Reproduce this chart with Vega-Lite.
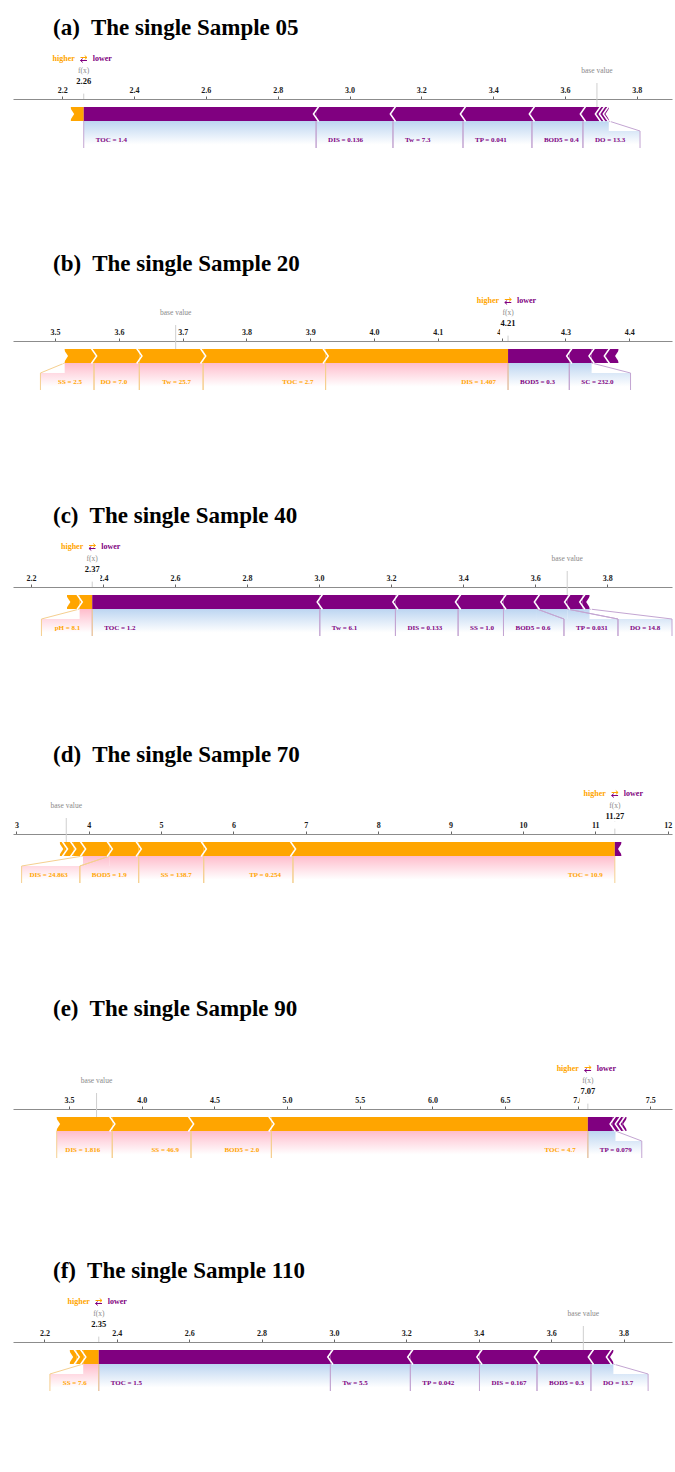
{
"$schema":"https://vega.github.io/schema/vega-lite/v6.json",
"background":"white",
"padding":{"left":13,"right":0,"top":16,"bottom":0},
"spacing":100,
"resolve":{"scale":{"x":"independent","y":"independent"}},
"datasets":{
"seg":[
{"p":"a","feature":"other","dir":"higher","lo":2.224,"hi":2.26},
{"p":"a","feature":"TOC","dir":"lower","lo":2.26,"hi":2.907},
{"p":"a","feature":"DIS","dir":"lower","lo":2.907,"hi":3.121},
{"p":"a","feature":"Tw","dir":"lower","lo":3.121,"hi":3.316},
{"p":"a","feature":"TP","dir":"lower","lo":3.316,"hi":3.508},
{"p":"a","feature":"BOD5","dir":"lower","lo":3.508,"hi":3.65},
{"p":"a","feature":"DO","dir":"lower","lo":3.65,"hi":3.692},
{"p":"a","feature":"other","dir":"lower","lo":3.692,"hi":3.703},
{"p":"a","feature":"other","dir":"lower","lo":3.703,"hi":3.714},
{"p":"a","feature":"other","dir":"lower","lo":3.714,"hi":3.722},
{"p":"b","feature":"SS","dir":"higher","lo":3.515,"hi":3.561},
{"p":"b","feature":"DO","dir":"higher","lo":3.561,"hi":3.632},
{"p":"b","feature":"Tw","dir":"higher","lo":3.632,"hi":3.732},
{"p":"b","feature":"TOC","dir":"higher","lo":3.732,"hi":3.924},
{"p":"b","feature":"DIS","dir":"higher","lo":3.924,"hi":4.21},
{"p":"b","feature":"BOD5","dir":"lower","lo":4.21,"hi":4.306},
{"p":"b","feature":"SC","dir":"lower","lo":4.306,"hi":4.341},
{"p":"b","feature":"other","dir":"lower","lo":4.341,"hi":4.365},
{"p":"b","feature":"other","dir":"lower","lo":4.365,"hi":4.383},
{"p":"c","feature":"other","dir":"higher","lo":2.30,"hi":2.335},
{"p":"c","feature":"pH","dir":"higher","lo":2.335,"hi":2.37},
{"p":"c","feature":"TOC","dir":"lower","lo":2.37,"hi":3.002},
{"p":"c","feature":"Tw","dir":"lower","lo":3.002,"hi":3.212},
{"p":"c","feature":"DIS","dir":"lower","lo":3.212,"hi":3.386},
{"p":"c","feature":"SS","dir":"lower","lo":3.386,"hi":3.512},
{"p":"c","feature":"BOD5","dir":"lower","lo":3.512,"hi":3.605},
{"p":"c","feature":"TP","dir":"lower","lo":3.605,"hi":3.689},
{"p":"c","feature":"DO","dir":"lower","lo":3.689,"hi":3.731},
{"p":"c","feature":"other","dir":"lower","lo":3.731,"hi":3.751},
{"p":"d","feature":"other","dir":"higher","lo":3.601,"hi":3.67},
{"p":"d","feature":"other","dir":"higher","lo":3.67,"hi":3.784},
{"p":"d","feature":"other","dir":"higher","lo":3.784,"hi":3.92},
{"p":"d","feature":"DIS","dir":"higher","lo":3.92,"hi":4.29},
{"p":"d","feature":"BOD5","dir":"higher","lo":4.29,"hi":4.69},
{"p":"d","feature":"SS","dir":"higher","lo":4.69,"hi":5.589},
{"p":"d","feature":"TP","dir":"higher","lo":5.589,"hi":6.822},
{"p":"d","feature":"TOC","dir":"higher","lo":6.822,"hi":11.27},
{"p":"d","feature":"other","dir":"lower","lo":11.27,"hi":11.36},
{"p":"e","feature":"DIS","dir":"higher","lo":3.415,"hi":3.797},
{"p":"e","feature":"SS","dir":"higher","lo":3.797,"hi":4.339},
{"p":"e","feature":"BOD5","dir":"higher","lo":4.339,"hi":4.892},
{"p":"e","feature":"TOC","dir":"higher","lo":4.892,"hi":7.07},
{"p":"e","feature":"TP","dir":"lower","lo":7.07,"hi":7.241},
{"p":"e","feature":"other","dir":"lower","lo":7.241,"hi":7.277},
{"p":"e","feature":"other","dir":"lower","lo":7.277,"hi":7.307},
{"p":"e","feature":"other","dir":"lower","lo":7.307,"hi":7.336},
{"p":"f","feature":"other","dir":"higher","lo":2.27,"hi":2.289},
{"p":"f","feature":"other","dir":"higher","lo":2.289,"hi":2.307},
{"p":"f","feature":"SS","dir":"higher","lo":2.307,"hi":2.35},
{"p":"f","feature":"TOC","dir":"lower","lo":2.35,"hi":2.99},
{"p":"f","feature":"Tw","dir":"lower","lo":2.99,"hi":3.211},
{"p":"f","feature":"TP","dir":"lower","lo":3.211,"hi":3.402},
{"p":"f","feature":"DIS","dir":"lower","lo":3.402,"hi":3.561},
{"p":"f","feature":"BOD5","dir":"lower","lo":3.561,"hi":3.71},
{"p":"f","feature":"DO","dir":"lower","lo":3.71,"hi":3.76},
{"p":"f","feature":"other","dir":"lower","lo":3.76,"hi":3.772}
],
"lab":[
{"p":"a","dir":"lower","label":"TOC = 1.4","barLo":2.26,"barHi":2.907,"labLo":2.26,"labHi":2.907},
{"p":"a","dir":"lower","label":"DIS = 0.136","barLo":2.907,"barHi":3.121,"labLo":2.907,"labHi":3.121},
{"p":"a","dir":"lower","label":"Tw = 7.3","barLo":3.121,"barHi":3.316,"labLo":3.121,"labHi":3.316},
{"p":"a","dir":"lower","label":"TP = 0.041","barLo":3.316,"barHi":3.508,"labLo":3.316,"labHi":3.508},
{"p":"a","dir":"lower","label":"BOD5 = 0.4","barLo":3.508,"barHi":3.65,"labLo":3.508,"labHi":3.65},
{"p":"a","dir":"lower","label":"DO = 13.3","barLo":3.65,"barHi":3.722,"labLo":3.65,"labHi":3.809},
{"p":"b","dir":"higher","label":"SS = 2.5","barLo":3.515,"barHi":3.561,"labLo":3.477,"labHi":3.561},
{"p":"b","dir":"higher","label":"DO = 7.0","barLo":3.561,"barHi":3.632,"labLo":3.561,"labHi":3.632},
{"p":"b","dir":"higher","label":"Tw = 25.7","barLo":3.632,"barHi":3.732,"labLo":3.632,"labHi":3.732},
{"p":"b","dir":"higher","label":"TOC = 2.7","barLo":3.732,"barHi":3.924,"labLo":3.732,"labHi":3.924},
{"p":"b","dir":"higher","label":"DIS = 1.407","barLo":3.924,"barHi":4.21,"labLo":3.924,"labHi":4.21},
{"p":"b","dir":"lower","label":"BOD5 = 0.3","barLo":4.21,"barHi":4.306,"labLo":4.21,"labHi":4.306},
{"p":"b","dir":"lower","label":"SC = 232.0","barLo":4.306,"barHi":4.341,"labLo":4.306,"labHi":4.402},
{"p":"c","dir":"higher","label":"pH = 8.1","barLo":2.335,"barHi":2.37,"labLo":2.229,"labHi":2.37},
{"p":"c","dir":"lower","label":"TOC = 1.2","barLo":2.37,"barHi":3.002,"labLo":2.37,"labHi":3.002},
{"p":"c","dir":"lower","label":"Tw = 6.1","barLo":3.002,"barHi":3.212,"labLo":3.002,"labHi":3.212},
{"p":"c","dir":"lower","label":"DIS = 0.133","barLo":3.212,"barHi":3.386,"labLo":3.212,"labHi":3.386},
{"p":"c","dir":"lower","label":"SS = 1.0","barLo":3.386,"barHi":3.512,"labLo":3.386,"labHi":3.512},
{"p":"c","dir":"lower","label":"BOD5 = 0.6","barLo":3.512,"barHi":3.605,"labLo":3.512,"labHi":3.68},
{"p":"c","dir":"lower","label":"TP = 0.031","barLo":3.605,"barHi":3.689,"labLo":3.68,"labHi":3.83},
{"p":"c","dir":"lower","label":"DO = 14.8","barLo":3.689,"barHi":3.751,"labLo":3.83,"labHi":3.98},
{"p":"d","dir":"higher","label":"DIS = 24.863","barLo":3.92,"barHi":4.29,"labLo":3.072,"labHi":3.877},
{"p":"d","dir":"higher","label":"BOD5 = 1.9","barLo":4.29,"barHi":4.69,"labLo":3.877,"labHi":4.69},
{"p":"d","dir":"higher","label":"SS = 138.7","barLo":4.69,"barHi":5.589,"labLo":4.69,"labHi":5.589},
{"p":"d","dir":"higher","label":"TP = 0.254","barLo":5.589,"barHi":6.822,"labLo":5.589,"labHi":6.822},
{"p":"d","dir":"higher","label":"TOC = 10.9","barLo":6.822,"barHi":11.27,"labLo":6.822,"labHi":11.27},
{"p":"e","dir":"higher","label":"DIS = 1.816","barLo":3.415,"barHi":3.797,"labLo":3.415,"labHi":3.797},
{"p":"e","dir":"higher","label":"SS = 46.9","barLo":3.797,"barHi":4.339,"labLo":3.797,"labHi":4.339},
{"p":"e","dir":"higher","label":"BOD5 = 2.0","barLo":4.339,"barHi":4.892,"labLo":4.339,"labHi":4.892},
{"p":"e","dir":"higher","label":"TOC = 4.7","barLo":4.892,"barHi":7.07,"labLo":4.892,"labHi":7.07},
{"p":"e","dir":"lower","label":"TP = 0.079","barLo":7.07,"barHi":7.26,"labLo":7.07,"labHi":7.441},
{"p":"f","dir":"higher","label":"SS = 7.6","barLo":2.307,"barHi":2.35,"labLo":2.215,"labHi":2.35},
{"p":"f","dir":"lower","label":"TOC = 1.5","barLo":2.35,"barHi":2.99,"labLo":2.35,"labHi":2.99},
{"p":"f","dir":"lower","label":"Tw = 5.5","barLo":2.99,"barHi":3.211,"labLo":2.99,"labHi":3.211},
{"p":"f","dir":"lower","label":"TP = 0.042","barLo":3.211,"barHi":3.402,"labLo":3.211,"labHi":3.402},
{"p":"f","dir":"lower","label":"DIS = 0.167","barLo":3.402,"barHi":3.561,"labLo":3.402,"labHi":3.561},
{"p":"f","dir":"lower","label":"BOD5 = 0.3","barLo":3.561,"barHi":3.71,"labLo":3.561,"labHi":3.71},
{"p":"f","dir":"lower","label":"DO = 13.7","barLo":3.71,"barHi":3.772,"labLo":3.71,"labHi":3.868}
],
"meta":[
{"p":"a","fx":2.26,"base":3.689},
{"p":"b","fx":4.21,"base":3.689},
{"p":"c","fx":2.37,"base":3.689},
{"p":"d","fx":11.27,"base":3.689},
{"p":"e","fx":7.07,"base":3.689},
{"p":"f","fx":2.35,"base":3.689}
]
},
"vconcat":[
{"title":{"text":"(a)\u00a0 The single Sample 05","offset":14},"width":659,"height":53,"layer":[
{"data":{"name":"seg"},"transform":[{"filter":"datum.p=='a'"}],"mark":{"type":"rect","strokeWidth":0},"encoding":{"x":{"field":"lo","type":"quantitative","title":null,"scale":{"domain":[2.063,3.898],"nice":false,"zero":false},"axis":{"orient":"top","values":[2.2,2.4,2.6,2.8,3.0,3.2,3.4,3.6,3.8],"format":".1f","title":null}},"x2":{"field":"hi"},"y":{"datum":8,"axis":null,"scale":{"domain":[0,53],"reverse":true,"nice":false,"zero":false}},"y2":{"datum":22},"fill":{"field":"dir","type":"nominal","legend":null,"scale":{"domain":["higher","lower"],"range":["#FFA500","#800080"]}}}},
{"data":{"name":"lab"},"transform":[{"filter":"datum.p=='a' && datum.dir=='higher'"}],"mark":{"type":"rect","strokeWidth":0,"fill":{"gradient":"linear","x1":0,"y1":0,"x2":0,"y2":1,"stops":[{"offset":0,"color":"#ffbccb"},{"offset":1,"color":"#ffd9e2"}]}},"encoding":{"x":{"field":"barLo","type":"quantitative","title":null},"x2":{"field":"barHi"},"y":{"datum":22,"axis":null},"y2":{"datum":32}}},
{"data":{"name":"lab"},"transform":[{"filter":"datum.p=='a' && datum.dir=='lower'"}],"mark":{"type":"rect","strokeWidth":0,"fill":{"gradient":"linear","x1":0,"y1":0,"x2":0,"y2":1,"stops":[{"offset":0,"color":"#bcd5f1"},{"offset":1,"color":"#d9e7f7"}]}},"encoding":{"x":{"field":"barLo","type":"quantitative","title":null},"x2":{"field":"barHi"},"y":{"datum":22,"axis":null},"y2":{"datum":32}}},
{"data":{"name":"lab"},"transform":[{"filter":"datum.p=='a' && datum.dir=='higher'"}],"mark":{"type":"rect","strokeWidth":0,"fill":{"gradient":"linear","x1":0,"y1":0,"x2":0,"y2":1,"stops":[{"offset":0,"color":"#ffd9e2"},{"offset":0.8,"color":"#ffffff"}]}},"encoding":{"x":{"field":"labLo","type":"quantitative","title":null},"x2":{"field":"labHi"},"y":{"datum":32,"axis":null},"y2":{"datum":49}}},
{"data":{"name":"lab"},"transform":[{"filter":"datum.p=='a' && datum.dir=='lower'"}],"mark":{"type":"rect","strokeWidth":0,"fill":{"gradient":"linear","x1":0,"y1":0,"x2":0,"y2":1,"stops":[{"offset":0,"color":"#d9e7f7"},{"offset":0.8,"color":"#ffffff"}]}},"encoding":{"x":{"field":"labLo","type":"quantitative","title":null},"x2":{"field":"labHi"},"y":{"datum":32,"axis":null},"y2":{"datum":49}}},
{"data":{"name":"lab"},"transform":[{"filter":"datum.p=='a'"}],"mark":{"type":"rule","strokeWidth":1},"encoding":{"x":{"field":"barLo","type":"quantitative","title":null},"x2":{"field":"labLo"},"y":{"datum":22,"axis":null},"y2":{"datum":32},"stroke":{"field":"dir","type":"nominal","legend":null,"scale":{"domain":["higher","lower"],"range":["#f5cf8f","#c3a5d2"]}}}},
{"data":{"name":"lab"},"transform":[{"filter":"datum.p=='a'"}],"mark":{"type":"rule","strokeWidth":1},"encoding":{"x":{"field":"barHi","type":"quantitative","title":null},"x2":{"field":"labHi"},"y":{"datum":22,"axis":null},"y2":{"datum":32},"stroke":{"field":"dir","type":"nominal","legend":null,"scale":{"domain":["higher","lower"],"range":["#f5cf8f","#c3a5d2"]}}}},
{"data":{"name":"lab"},"transform":[{"filter":"datum.p=='a'"}],"mark":{"type":"rule","strokeWidth":1},"encoding":{"x":{"field":"labLo","type":"quantitative","title":null},"y":{"datum":32,"axis":null},"y2":{"datum":49},"stroke":{"field":"dir","type":"nominal","legend":null,"scale":{"domain":["higher","lower"],"range":["#f5cf8f","#c3a5d2"]}}}},
{"data":{"name":"lab"},"transform":[{"filter":"datum.p=='a'"}],"mark":{"type":"rule","strokeWidth":1},"encoding":{"x":{"field":"labHi","type":"quantitative","title":null},"y":{"datum":32,"axis":null},"y2":{"datum":49},"stroke":{"field":"dir","type":"nominal","legend":null,"scale":{"domain":["higher","lower"],"range":["#f5cf8f","#c3a5d2"]}}}},
{"data":{"name":"seg"},"transform":[{"filter":"datum.p=='a'"},{"joinaggregate":[{"op":"min","field":"lo","as":"start"}],"groupby":["dir"]},{"filter":"datum.dir=='lower' && datum.lo > datum.start"}],"mark":{"type":"point","shape":"M0.35,-1L-0.35,0L0.35,1","filled":false,"color":"white","strokeWidth":1.5,"size":225,"opacity":1},"encoding":{"x":{"field":"lo","type":"quantitative","title":null},"y":{"datum":15,"axis":null}}},
{"data":{"name":"seg"},"transform":[{"filter":"datum.p=='a'"},{"joinaggregate":[{"op":"max","field":"hi","as":"end"}],"groupby":["dir"]},{"filter":"datum.dir=='higher' && datum.hi < datum.end"}],"mark":{"type":"point","shape":"M-0.35,-1L0.35,0L-0.35,1","filled":false,"color":"white","strokeWidth":1.5,"size":225,"opacity":1},"encoding":{"x":{"field":"hi","type":"quantitative","title":null},"y":{"datum":15,"axis":null}}},
{"data":{"name":"seg"},"transform":[{"filter":"datum.p=='a'"},{"joinaggregate":[{"op":"max","field":"hi","as":"end"}],"groupby":["dir"]},{"filter":"datum.dir=='lower' && datum.hi == datum.end"}],"mark":{"type":"point","shape":"M0.3,-1.15L-0.45,0L0.3,1.15Z","filled":true,"color":"white","strokeWidth":0,"size":225,"opacity":1},"encoding":{"x":{"field":"hi","type":"quantitative","title":null},"y":{"datum":15,"axis":null}}},
{"data":{"name":"seg"},"transform":[{"filter":"datum.p=='a'"},{"joinaggregate":[{"op":"min","field":"lo","as":"start"}],"groupby":["dir"]},{"filter":"datum.dir=='higher' && datum.lo == datum.start"}],"mark":{"type":"point","shape":"M-0.3,-1.15L0.45,0L-0.3,1.15Z","filled":true,"color":"white","strokeWidth":0,"size":225,"opacity":1},"encoding":{"x":{"field":"lo","type":"quantitative","title":null},"y":{"datum":15,"axis":null}}},
{"data":{"name":"meta"},"transform":[{"filter":"datum.p=='a'"}],"mark":{"type":"rule","color":"#cfcfcf","strokeWidth":1},"encoding":{"x":{"field":"base","type":"quantitative","title":null},"y":{"datum":-16,"axis":null},"y2":{"datum":8}}},
{"data":{"name":"meta"},"transform":[{"filter":"datum.p=='a'"}],"mark":{"type":"rule","color":"#cfcfcf","strokeWidth":1},"encoding":{"x":{"field":"fx","type":"quantitative","title":null},"y":{"datum":-13,"axis":null},"y2":{"datum":0}}},
{"data":{"name":"meta"},"transform":[{"filter":"datum.p=='a'"}],"mark":{"type":"point","shape":"M-1,-0.45L1,-0.45L1,0.45L-1,0.45Z","filled":true,"color":"white","strokeWidth":0,"size":256,"opacity":1},"encoding":{"x":{"field":"fx","type":"quantitative","title":null},"y":{"datum":-9,"axis":null}}},
{"data":{"name":"meta"},"transform":[{"filter":"datum.p=='a'"}],"mark":{"type":"text","text":"base value","fontSize":7.5,"color":"#8a8a8a"},"encoding":{"x":{"field":"base","type":"quantitative","title":null},"y":{"datum":-28,"axis":null}}},
{"data":{"name":"meta"},"transform":[{"filter":"datum.p=='a'"}],"mark":{"type":"text","text":"f(x)","fontSize":7.5,"color":"#8a8a8a"},"encoding":{"x":{"field":"fx","type":"quantitative","title":null},"y":{"datum":-28,"axis":null}}},
{"data":{"name":"meta"},"transform":[{"filter":"datum.p=='a'"}],"mark":{"type":"text","fontSize":8.5,"fontWeight":"bold","color":"#111111"},"encoding":{"x":{"field":"fx","type":"quantitative","title":null},"y":{"datum":-18,"axis":null},"text":{"field":"fx","type":"quantitative","format":".2f"}}},
{"data":{"name":"meta"},"transform":[{"filter":"datum.p=='a'"}],"mark":{"type":"text","text":"higher","align":"right","dx":-9,"fontSize":8,"fontWeight":"bold","color":"#FFA500"},"encoding":{"x":{"field":"fx","type":"quantitative","title":null},"y":{"datum":-40,"axis":null}}},
{"data":{"name":"meta"},"transform":[{"filter":"datum.p=='a'"}],"mark":{"type":"text","text":"lower","align":"left","dx":9,"fontSize":8,"fontWeight":"bold","color":"#800080"},"encoding":{"x":{"field":"fx","type":"quantitative","title":null},"y":{"datum":-40,"axis":null}}},
{"data":{"name":"meta"},"transform":[{"filter":"datum.p=='a'"}],"mark":{"type":"point","shape":"M-1,0L1,0M0.3,-0.6L1,0L0.3,0.6","filled":false,"color":"#FFA500","strokeWidth":1,"size":42,"opacity":1},"encoding":{"x":{"field":"fx","type":"quantitative","title":null},"y":{"datum":-41.5,"axis":null}}},
{"data":{"name":"meta"},"transform":[{"filter":"datum.p=='a'"}],"mark":{"type":"point","shape":"M1,0L-1,0M-0.3,-0.6L-1,0L-0.3,0.6","filled":false,"color":"#800080","strokeWidth":1,"size":42,"opacity":1},"encoding":{"x":{"field":"fx","type":"quantitative","title":null},"y":{"datum":-38.5,"axis":null}}},
{"data":{"name":"lab"},"transform":[{"filter":"datum.p=='a' && datum.dir=='higher'"}],"mark":{"type":"text","align":"right","dx":-12,"fontSize":7,"fontWeight":"bold"},"encoding":{"x":{"field":"labHi","type":"quantitative","title":null},"y":{"datum":41,"axis":null},"text":{"field":"label"},"fill":{"field":"dir","type":"nominal","legend":null}}},
{"data":{"name":"lab"},"transform":[{"filter":"datum.p=='a' && datum.dir=='lower'"}],"mark":{"type":"text","align":"left","dx":12,"fontSize":7,"fontWeight":"bold"},"encoding":{"x":{"field":"labLo","type":"quantitative","title":null},"y":{"datum":41,"axis":null},"text":{"field":"label"},"fill":{"field":"dir","type":"nominal","legend":null}}}
]},
{"title":{"text":"(b)\u00a0 The single Sample 20","offset":20},"width":659,"height":63,"layer":[
{"data":{"name":"seg"},"transform":[{"filter":"datum.p=='b'"}],"mark":{"type":"rect","strokeWidth":0},"encoding":{"x":{"field":"lo","type":"quantitative","title":null,"scale":{"domain":[3.434,4.467],"nice":false,"zero":false},"axis":{"orient":"top","values":[3.5,3.6,3.7,3.8,3.9,4.0,4.1,4.2,4.3,4.4],"format":".1f","title":null}},"x2":{"field":"hi"},"y":{"datum":8,"axis":null,"scale":{"domain":[0,63],"reverse":true,"nice":false,"zero":false}},"y2":{"datum":22},"fill":{"field":"dir","type":"nominal","legend":null,"scale":{"domain":["higher","lower"],"range":["#FFA500","#800080"]}}}},
{"data":{"name":"lab"},"transform":[{"filter":"datum.p=='b' && datum.dir=='higher'"}],"mark":{"type":"rect","strokeWidth":0,"fill":{"gradient":"linear","x1":0,"y1":0,"x2":0,"y2":1,"stops":[{"offset":0,"color":"#ffbccb"},{"offset":1,"color":"#ffd9e2"}]}},"encoding":{"x":{"field":"barLo","type":"quantitative","title":null},"x2":{"field":"barHi"},"y":{"datum":22,"axis":null},"y2":{"datum":32}}},
{"data":{"name":"lab"},"transform":[{"filter":"datum.p=='b' && datum.dir=='lower'"}],"mark":{"type":"rect","strokeWidth":0,"fill":{"gradient":"linear","x1":0,"y1":0,"x2":0,"y2":1,"stops":[{"offset":0,"color":"#bcd5f1"},{"offset":1,"color":"#d9e7f7"}]}},"encoding":{"x":{"field":"barLo","type":"quantitative","title":null},"x2":{"field":"barHi"},"y":{"datum":22,"axis":null},"y2":{"datum":32}}},
{"data":{"name":"lab"},"transform":[{"filter":"datum.p=='b' && datum.dir=='higher'"}],"mark":{"type":"rect","strokeWidth":0,"fill":{"gradient":"linear","x1":0,"y1":0,"x2":0,"y2":1,"stops":[{"offset":0,"color":"#ffd9e2"},{"offset":0.8,"color":"#ffffff"}]}},"encoding":{"x":{"field":"labLo","type":"quantitative","title":null},"x2":{"field":"labHi"},"y":{"datum":32,"axis":null},"y2":{"datum":49}}},
{"data":{"name":"lab"},"transform":[{"filter":"datum.p=='b' && datum.dir=='lower'"}],"mark":{"type":"rect","strokeWidth":0,"fill":{"gradient":"linear","x1":0,"y1":0,"x2":0,"y2":1,"stops":[{"offset":0,"color":"#d9e7f7"},{"offset":0.8,"color":"#ffffff"}]}},"encoding":{"x":{"field":"labLo","type":"quantitative","title":null},"x2":{"field":"labHi"},"y":{"datum":32,"axis":null},"y2":{"datum":49}}},
{"data":{"name":"lab"},"transform":[{"filter":"datum.p=='b'"}],"mark":{"type":"rule","strokeWidth":1},"encoding":{"x":{"field":"barLo","type":"quantitative","title":null},"x2":{"field":"labLo"},"y":{"datum":22,"axis":null},"y2":{"datum":32},"stroke":{"field":"dir","type":"nominal","legend":null,"scale":{"domain":["higher","lower"],"range":["#f5cf8f","#c3a5d2"]}}}},
{"data":{"name":"lab"},"transform":[{"filter":"datum.p=='b'"}],"mark":{"type":"rule","strokeWidth":1},"encoding":{"x":{"field":"barHi","type":"quantitative","title":null},"x2":{"field":"labHi"},"y":{"datum":22,"axis":null},"y2":{"datum":32},"stroke":{"field":"dir","type":"nominal","legend":null,"scale":{"domain":["higher","lower"],"range":["#f5cf8f","#c3a5d2"]}}}},
{"data":{"name":"lab"},"transform":[{"filter":"datum.p=='b'"}],"mark":{"type":"rule","strokeWidth":1},"encoding":{"x":{"field":"labLo","type":"quantitative","title":null},"y":{"datum":32,"axis":null},"y2":{"datum":49},"stroke":{"field":"dir","type":"nominal","legend":null,"scale":{"domain":["higher","lower"],"range":["#f5cf8f","#c3a5d2"]}}}},
{"data":{"name":"lab"},"transform":[{"filter":"datum.p=='b'"}],"mark":{"type":"rule","strokeWidth":1},"encoding":{"x":{"field":"labHi","type":"quantitative","title":null},"y":{"datum":32,"axis":null},"y2":{"datum":49},"stroke":{"field":"dir","type":"nominal","legend":null,"scale":{"domain":["higher","lower"],"range":["#f5cf8f","#c3a5d2"]}}}},
{"data":{"name":"seg"},"transform":[{"filter":"datum.p=='b'"},{"joinaggregate":[{"op":"min","field":"lo","as":"start"}],"groupby":["dir"]},{"filter":"datum.dir=='lower' && datum.lo > datum.start"}],"mark":{"type":"point","shape":"M0.35,-1L-0.35,0L0.35,1","filled":false,"color":"white","strokeWidth":1.5,"size":225,"opacity":1},"encoding":{"x":{"field":"lo","type":"quantitative","title":null},"y":{"datum":15,"axis":null}}},
{"data":{"name":"seg"},"transform":[{"filter":"datum.p=='b'"},{"joinaggregate":[{"op":"max","field":"hi","as":"end"}],"groupby":["dir"]},{"filter":"datum.dir=='higher' && datum.hi < datum.end"}],"mark":{"type":"point","shape":"M-0.35,-1L0.35,0L-0.35,1","filled":false,"color":"white","strokeWidth":1.5,"size":225,"opacity":1},"encoding":{"x":{"field":"hi","type":"quantitative","title":null},"y":{"datum":15,"axis":null}}},
{"data":{"name":"seg"},"transform":[{"filter":"datum.p=='b'"},{"joinaggregate":[{"op":"max","field":"hi","as":"end"}],"groupby":["dir"]},{"filter":"datum.dir=='lower' && datum.hi == datum.end"}],"mark":{"type":"point","shape":"M0.3,-1.15L-0.45,0L0.3,1.15Z","filled":true,"color":"white","strokeWidth":0,"size":225,"opacity":1},"encoding":{"x":{"field":"hi","type":"quantitative","title":null},"y":{"datum":15,"axis":null}}},
{"data":{"name":"seg"},"transform":[{"filter":"datum.p=='b'"},{"joinaggregate":[{"op":"min","field":"lo","as":"start"}],"groupby":["dir"]},{"filter":"datum.dir=='higher' && datum.lo == datum.start"}],"mark":{"type":"point","shape":"M-0.3,-1.15L0.45,0L-0.3,1.15Z","filled":true,"color":"white","strokeWidth":0,"size":225,"opacity":1},"encoding":{"x":{"field":"lo","type":"quantitative","title":null},"y":{"datum":15,"axis":null}}},
{"data":{"name":"meta"},"transform":[{"filter":"datum.p=='b'"}],"mark":{"type":"rule","color":"#cfcfcf","strokeWidth":1},"encoding":{"x":{"field":"base","type":"quantitative","title":null},"y":{"datum":-16,"axis":null},"y2":{"datum":8}}},
{"data":{"name":"meta"},"transform":[{"filter":"datum.p=='b'"}],"mark":{"type":"rule","color":"#cfcfcf","strokeWidth":1},"encoding":{"x":{"field":"fx","type":"quantitative","title":null},"y":{"datum":-13,"axis":null},"y2":{"datum":0}}},
{"data":{"name":"meta"},"transform":[{"filter":"datum.p=='b'"}],"mark":{"type":"point","shape":"M-1,-0.45L1,-0.45L1,0.45L-1,0.45Z","filled":true,"color":"white","strokeWidth":0,"size":256,"opacity":1},"encoding":{"x":{"field":"fx","type":"quantitative","title":null},"y":{"datum":-9,"axis":null}}},
{"data":{"name":"meta"},"transform":[{"filter":"datum.p=='b'"}],"mark":{"type":"text","text":"base value","fontSize":7.5,"color":"#8a8a8a"},"encoding":{"x":{"field":"base","type":"quantitative","title":null},"y":{"datum":-28,"axis":null}}},
{"data":{"name":"meta"},"transform":[{"filter":"datum.p=='b'"}],"mark":{"type":"text","text":"f(x)","fontSize":7.5,"color":"#8a8a8a"},"encoding":{"x":{"field":"fx","type":"quantitative","title":null},"y":{"datum":-28,"axis":null}}},
{"data":{"name":"meta"},"transform":[{"filter":"datum.p=='b'"}],"mark":{"type":"text","fontSize":8.5,"fontWeight":"bold","color":"#111111"},"encoding":{"x":{"field":"fx","type":"quantitative","title":null},"y":{"datum":-18,"axis":null},"text":{"field":"fx","type":"quantitative","format":".2f"}}},
{"data":{"name":"meta"},"transform":[{"filter":"datum.p=='b'"}],"mark":{"type":"text","text":"higher","align":"right","dx":-9,"fontSize":8,"fontWeight":"bold","color":"#FFA500"},"encoding":{"x":{"field":"fx","type":"quantitative","title":null},"y":{"datum":-40,"axis":null}}},
{"data":{"name":"meta"},"transform":[{"filter":"datum.p=='b'"}],"mark":{"type":"text","text":"lower","align":"left","dx":9,"fontSize":8,"fontWeight":"bold","color":"#800080"},"encoding":{"x":{"field":"fx","type":"quantitative","title":null},"y":{"datum":-40,"axis":null}}},
{"data":{"name":"meta"},"transform":[{"filter":"datum.p=='b'"}],"mark":{"type":"point","shape":"M-1,0L1,0M0.3,-0.6L1,0L0.3,0.6","filled":false,"color":"#FFA500","strokeWidth":1,"size":42,"opacity":1},"encoding":{"x":{"field":"fx","type":"quantitative","title":null},"y":{"datum":-41.5,"axis":null}}},
{"data":{"name":"meta"},"transform":[{"filter":"datum.p=='b'"}],"mark":{"type":"point","shape":"M1,0L-1,0M-0.3,-0.6L-1,0L-0.3,0.6","filled":false,"color":"#800080","strokeWidth":1,"size":42,"opacity":1},"encoding":{"x":{"field":"fx","type":"quantitative","title":null},"y":{"datum":-38.5,"axis":null}}},
{"data":{"name":"lab"},"transform":[{"filter":"datum.p=='b' && datum.dir=='higher'"}],"mark":{"type":"text","align":"right","dx":-12,"fontSize":7,"fontWeight":"bold"},"encoding":{"x":{"field":"labHi","type":"quantitative","title":null},"y":{"datum":41,"axis":null},"text":{"field":"label"},"fill":{"field":"dir","type":"nominal","legend":null}}},
{"data":{"name":"lab"},"transform":[{"filter":"datum.p=='b' && datum.dir=='lower'"}],"mark":{"type":"text","align":"left","dx":12,"fontSize":7,"fontWeight":"bold"},"encoding":{"x":{"field":"labLo","type":"quantitative","title":null},"y":{"datum":41,"axis":null},"text":{"field":"label"},"fill":{"field":"dir","type":"nominal","legend":null}}}
]},
{"title":{"text":"(c)\u00a0 The single Sample 40","offset":14},"width":659,"height":56,"layer":[
{"data":{"name":"seg"},"transform":[{"filter":"datum.p=='c'"}],"mark":{"type":"rect","strokeWidth":0},"encoding":{"x":{"field":"lo","type":"quantitative","title":null,"scale":{"domain":[2.15,3.98],"nice":false,"zero":false},"axis":{"orient":"top","values":[2.2,2.4,2.6,2.8,3.0,3.2,3.4,3.6,3.8],"format":".1f","title":null}},"x2":{"field":"hi"},"y":{"datum":8,"axis":null,"scale":{"domain":[0,56],"reverse":true,"nice":false,"zero":false}},"y2":{"datum":22},"fill":{"field":"dir","type":"nominal","legend":null,"scale":{"domain":["higher","lower"],"range":["#FFA500","#800080"]}}}},
{"data":{"name":"lab"},"transform":[{"filter":"datum.p=='c' && datum.dir=='higher'"}],"mark":{"type":"rect","strokeWidth":0,"fill":{"gradient":"linear","x1":0,"y1":0,"x2":0,"y2":1,"stops":[{"offset":0,"color":"#ffbccb"},{"offset":1,"color":"#ffd9e2"}]}},"encoding":{"x":{"field":"barLo","type":"quantitative","title":null},"x2":{"field":"barHi"},"y":{"datum":22,"axis":null},"y2":{"datum":32}}},
{"data":{"name":"lab"},"transform":[{"filter":"datum.p=='c' && datum.dir=='lower'"}],"mark":{"type":"rect","strokeWidth":0,"fill":{"gradient":"linear","x1":0,"y1":0,"x2":0,"y2":1,"stops":[{"offset":0,"color":"#bcd5f1"},{"offset":1,"color":"#d9e7f7"}]}},"encoding":{"x":{"field":"barLo","type":"quantitative","title":null},"x2":{"field":"barHi"},"y":{"datum":22,"axis":null},"y2":{"datum":32}}},
{"data":{"name":"lab"},"transform":[{"filter":"datum.p=='c' && datum.dir=='higher'"}],"mark":{"type":"rect","strokeWidth":0,"fill":{"gradient":"linear","x1":0,"y1":0,"x2":0,"y2":1,"stops":[{"offset":0,"color":"#ffd9e2"},{"offset":0.8,"color":"#ffffff"}]}},"encoding":{"x":{"field":"labLo","type":"quantitative","title":null},"x2":{"field":"labHi"},"y":{"datum":32,"axis":null},"y2":{"datum":49}}},
{"data":{"name":"lab"},"transform":[{"filter":"datum.p=='c' && datum.dir=='lower'"}],"mark":{"type":"rect","strokeWidth":0,"fill":{"gradient":"linear","x1":0,"y1":0,"x2":0,"y2":1,"stops":[{"offset":0,"color":"#d9e7f7"},{"offset":0.8,"color":"#ffffff"}]}},"encoding":{"x":{"field":"labLo","type":"quantitative","title":null},"x2":{"field":"labHi"},"y":{"datum":32,"axis":null},"y2":{"datum":49}}},
{"data":{"name":"lab"},"transform":[{"filter":"datum.p=='c'"}],"mark":{"type":"rule","strokeWidth":1},"encoding":{"x":{"field":"barLo","type":"quantitative","title":null},"x2":{"field":"labLo"},"y":{"datum":22,"axis":null},"y2":{"datum":32},"stroke":{"field":"dir","type":"nominal","legend":null,"scale":{"domain":["higher","lower"],"range":["#f5cf8f","#c3a5d2"]}}}},
{"data":{"name":"lab"},"transform":[{"filter":"datum.p=='c'"}],"mark":{"type":"rule","strokeWidth":1},"encoding":{"x":{"field":"barHi","type":"quantitative","title":null},"x2":{"field":"labHi"},"y":{"datum":22,"axis":null},"y2":{"datum":32},"stroke":{"field":"dir","type":"nominal","legend":null,"scale":{"domain":["higher","lower"],"range":["#f5cf8f","#c3a5d2"]}}}},
{"data":{"name":"lab"},"transform":[{"filter":"datum.p=='c'"}],"mark":{"type":"rule","strokeWidth":1},"encoding":{"x":{"field":"labLo","type":"quantitative","title":null},"y":{"datum":32,"axis":null},"y2":{"datum":49},"stroke":{"field":"dir","type":"nominal","legend":null,"scale":{"domain":["higher","lower"],"range":["#f5cf8f","#c3a5d2"]}}}},
{"data":{"name":"lab"},"transform":[{"filter":"datum.p=='c'"}],"mark":{"type":"rule","strokeWidth":1},"encoding":{"x":{"field":"labHi","type":"quantitative","title":null},"y":{"datum":32,"axis":null},"y2":{"datum":49},"stroke":{"field":"dir","type":"nominal","legend":null,"scale":{"domain":["higher","lower"],"range":["#f5cf8f","#c3a5d2"]}}}},
{"data":{"name":"seg"},"transform":[{"filter":"datum.p=='c'"},{"joinaggregate":[{"op":"min","field":"lo","as":"start"}],"groupby":["dir"]},{"filter":"datum.dir=='lower' && datum.lo > datum.start"}],"mark":{"type":"point","shape":"M0.35,-1L-0.35,0L0.35,1","filled":false,"color":"white","strokeWidth":1.5,"size":225,"opacity":1},"encoding":{"x":{"field":"lo","type":"quantitative","title":null},"y":{"datum":15,"axis":null}}},
{"data":{"name":"seg"},"transform":[{"filter":"datum.p=='c'"},{"joinaggregate":[{"op":"max","field":"hi","as":"end"}],"groupby":["dir"]},{"filter":"datum.dir=='higher' && datum.hi < datum.end"}],"mark":{"type":"point","shape":"M-0.35,-1L0.35,0L-0.35,1","filled":false,"color":"white","strokeWidth":1.5,"size":225,"opacity":1},"encoding":{"x":{"field":"hi","type":"quantitative","title":null},"y":{"datum":15,"axis":null}}},
{"data":{"name":"seg"},"transform":[{"filter":"datum.p=='c'"},{"joinaggregate":[{"op":"max","field":"hi","as":"end"}],"groupby":["dir"]},{"filter":"datum.dir=='lower' && datum.hi == datum.end"}],"mark":{"type":"point","shape":"M0.3,-1.15L-0.45,0L0.3,1.15Z","filled":true,"color":"white","strokeWidth":0,"size":225,"opacity":1},"encoding":{"x":{"field":"hi","type":"quantitative","title":null},"y":{"datum":15,"axis":null}}},
{"data":{"name":"seg"},"transform":[{"filter":"datum.p=='c'"},{"joinaggregate":[{"op":"min","field":"lo","as":"start"}],"groupby":["dir"]},{"filter":"datum.dir=='higher' && datum.lo == datum.start"}],"mark":{"type":"point","shape":"M-0.3,-1.15L0.45,0L-0.3,1.15Z","filled":true,"color":"white","strokeWidth":0,"size":225,"opacity":1},"encoding":{"x":{"field":"lo","type":"quantitative","title":null},"y":{"datum":15,"axis":null}}},
{"data":{"name":"meta"},"transform":[{"filter":"datum.p=='c'"}],"mark":{"type":"rule","color":"#cfcfcf","strokeWidth":1},"encoding":{"x":{"field":"base","type":"quantitative","title":null},"y":{"datum":-16,"axis":null},"y2":{"datum":8}}},
{"data":{"name":"meta"},"transform":[{"filter":"datum.p=='c'"}],"mark":{"type":"rule","color":"#cfcfcf","strokeWidth":1},"encoding":{"x":{"field":"fx","type":"quantitative","title":null},"y":{"datum":-13,"axis":null},"y2":{"datum":0}}},
{"data":{"name":"meta"},"transform":[{"filter":"datum.p=='c'"}],"mark":{"type":"point","shape":"M-1,-0.45L1,-0.45L1,0.45L-1,0.45Z","filled":true,"color":"white","strokeWidth":0,"size":256,"opacity":1},"encoding":{"x":{"field":"fx","type":"quantitative","title":null},"y":{"datum":-9,"axis":null}}},
{"data":{"name":"meta"},"transform":[{"filter":"datum.p=='c'"}],"mark":{"type":"text","text":"base value","fontSize":7.5,"color":"#8a8a8a"},"encoding":{"x":{"field":"base","type":"quantitative","title":null},"y":{"datum":-28,"axis":null}}},
{"data":{"name":"meta"},"transform":[{"filter":"datum.p=='c'"}],"mark":{"type":"text","text":"f(x)","fontSize":7.5,"color":"#8a8a8a"},"encoding":{"x":{"field":"fx","type":"quantitative","title":null},"y":{"datum":-28,"axis":null}}},
{"data":{"name":"meta"},"transform":[{"filter":"datum.p=='c'"}],"mark":{"type":"text","fontSize":8.5,"fontWeight":"bold","color":"#111111"},"encoding":{"x":{"field":"fx","type":"quantitative","title":null},"y":{"datum":-18,"axis":null},"text":{"field":"fx","type":"quantitative","format":".2f"}}},
{"data":{"name":"meta"},"transform":[{"filter":"datum.p=='c'"}],"mark":{"type":"text","text":"higher","align":"right","dx":-9,"fontSize":8,"fontWeight":"bold","color":"#FFA500"},"encoding":{"x":{"field":"fx","type":"quantitative","title":null},"y":{"datum":-40,"axis":null}}},
{"data":{"name":"meta"},"transform":[{"filter":"datum.p=='c'"}],"mark":{"type":"text","text":"lower","align":"left","dx":9,"fontSize":8,"fontWeight":"bold","color":"#800080"},"encoding":{"x":{"field":"fx","type":"quantitative","title":null},"y":{"datum":-40,"axis":null}}},
{"data":{"name":"meta"},"transform":[{"filter":"datum.p=='c'"}],"mark":{"type":"point","shape":"M-1,0L1,0M0.3,-0.6L1,0L0.3,0.6","filled":false,"color":"#FFA500","strokeWidth":1,"size":42,"opacity":1},"encoding":{"x":{"field":"fx","type":"quantitative","title":null},"y":{"datum":-41.5,"axis":null}}},
{"data":{"name":"meta"},"transform":[{"filter":"datum.p=='c'"}],"mark":{"type":"point","shape":"M1,0L-1,0M-0.3,-0.6L-1,0L-0.3,0.6","filled":false,"color":"#800080","strokeWidth":1,"size":42,"opacity":1},"encoding":{"x":{"field":"fx","type":"quantitative","title":null},"y":{"datum":-38.5,"axis":null}}},
{"data":{"name":"lab"},"transform":[{"filter":"datum.p=='c' && datum.dir=='higher'"}],"mark":{"type":"text","align":"right","dx":-12,"fontSize":7,"fontWeight":"bold"},"encoding":{"x":{"field":"labHi","type":"quantitative","title":null},"y":{"datum":41,"axis":null},"text":{"field":"label"},"fill":{"field":"dir","type":"nominal","legend":null}}},
{"data":{"name":"lab"},"transform":[{"filter":"datum.p=='c' && datum.dir=='lower'"}],"mark":{"type":"text","align":"left","dx":12,"fontSize":7,"fontWeight":"bold"},"encoding":{"x":{"field":"labLo","type":"quantitative","title":null},"y":{"datum":41,"axis":null},"text":{"field":"label"},"fill":{"field":"dir","type":"nominal","legend":null}}}
]},
{"title":{"text":"(d)\u00a0 The single Sample 70","offset":22},"width":659,"height":63,"layer":[
{"data":{"name":"seg"},"transform":[{"filter":"datum.p=='d'"}],"mark":{"type":"rect","strokeWidth":0},"encoding":{"x":{"field":"lo","type":"quantitative","title":null,"scale":{"domain":[2.953,12.06],"nice":false,"zero":false},"axis":{"orient":"top","values":[3,4,5,6,7,8,9,10,11,12],"format":"d","title":null}},"x2":{"field":"hi"},"y":{"datum":8,"axis":null,"scale":{"domain":[0,63],"reverse":true,"nice":false,"zero":false}},"y2":{"datum":22},"fill":{"field":"dir","type":"nominal","legend":null,"scale":{"domain":["higher","lower"],"range":["#FFA500","#800080"]}}}},
{"data":{"name":"lab"},"transform":[{"filter":"datum.p=='d' && datum.dir=='higher'"}],"mark":{"type":"rect","strokeWidth":0,"fill":{"gradient":"linear","x1":0,"y1":0,"x2":0,"y2":1,"stops":[{"offset":0,"color":"#ffbccb"},{"offset":1,"color":"#ffd9e2"}]}},"encoding":{"x":{"field":"barLo","type":"quantitative","title":null},"x2":{"field":"barHi"},"y":{"datum":22,"axis":null},"y2":{"datum":32}}},
{"data":{"name":"lab"},"transform":[{"filter":"datum.p=='d' && datum.dir=='lower'"}],"mark":{"type":"rect","strokeWidth":0,"fill":{"gradient":"linear","x1":0,"y1":0,"x2":0,"y2":1,"stops":[{"offset":0,"color":"#bcd5f1"},{"offset":1,"color":"#d9e7f7"}]}},"encoding":{"x":{"field":"barLo","type":"quantitative","title":null},"x2":{"field":"barHi"},"y":{"datum":22,"axis":null},"y2":{"datum":32}}},
{"data":{"name":"lab"},"transform":[{"filter":"datum.p=='d' && datum.dir=='higher'"}],"mark":{"type":"rect","strokeWidth":0,"fill":{"gradient":"linear","x1":0,"y1":0,"x2":0,"y2":1,"stops":[{"offset":0,"color":"#ffd9e2"},{"offset":0.8,"color":"#ffffff"}]}},"encoding":{"x":{"field":"labLo","type":"quantitative","title":null},"x2":{"field":"labHi"},"y":{"datum":32,"axis":null},"y2":{"datum":49}}},
{"data":{"name":"lab"},"transform":[{"filter":"datum.p=='d' && datum.dir=='lower'"}],"mark":{"type":"rect","strokeWidth":0,"fill":{"gradient":"linear","x1":0,"y1":0,"x2":0,"y2":1,"stops":[{"offset":0,"color":"#d9e7f7"},{"offset":0.8,"color":"#ffffff"}]}},"encoding":{"x":{"field":"labLo","type":"quantitative","title":null},"x2":{"field":"labHi"},"y":{"datum":32,"axis":null},"y2":{"datum":49}}},
{"data":{"name":"lab"},"transform":[{"filter":"datum.p=='d'"}],"mark":{"type":"rule","strokeWidth":1},"encoding":{"x":{"field":"barLo","type":"quantitative","title":null},"x2":{"field":"labLo"},"y":{"datum":22,"axis":null},"y2":{"datum":32},"stroke":{"field":"dir","type":"nominal","legend":null,"scale":{"domain":["higher","lower"],"range":["#f5cf8f","#c3a5d2"]}}}},
{"data":{"name":"lab"},"transform":[{"filter":"datum.p=='d'"}],"mark":{"type":"rule","strokeWidth":1},"encoding":{"x":{"field":"barHi","type":"quantitative","title":null},"x2":{"field":"labHi"},"y":{"datum":22,"axis":null},"y2":{"datum":32},"stroke":{"field":"dir","type":"nominal","legend":null,"scale":{"domain":["higher","lower"],"range":["#f5cf8f","#c3a5d2"]}}}},
{"data":{"name":"lab"},"transform":[{"filter":"datum.p=='d'"}],"mark":{"type":"rule","strokeWidth":1},"encoding":{"x":{"field":"labLo","type":"quantitative","title":null},"y":{"datum":32,"axis":null},"y2":{"datum":49},"stroke":{"field":"dir","type":"nominal","legend":null,"scale":{"domain":["higher","lower"],"range":["#f5cf8f","#c3a5d2"]}}}},
{"data":{"name":"lab"},"transform":[{"filter":"datum.p=='d'"}],"mark":{"type":"rule","strokeWidth":1},"encoding":{"x":{"field":"labHi","type":"quantitative","title":null},"y":{"datum":32,"axis":null},"y2":{"datum":49},"stroke":{"field":"dir","type":"nominal","legend":null,"scale":{"domain":["higher","lower"],"range":["#f5cf8f","#c3a5d2"]}}}},
{"data":{"name":"seg"},"transform":[{"filter":"datum.p=='d'"},{"joinaggregate":[{"op":"min","field":"lo","as":"start"}],"groupby":["dir"]},{"filter":"datum.dir=='lower' && datum.lo > datum.start"}],"mark":{"type":"point","shape":"M0.35,-1L-0.35,0L0.35,1","filled":false,"color":"white","strokeWidth":1.5,"size":225,"opacity":1},"encoding":{"x":{"field":"lo","type":"quantitative","title":null},"y":{"datum":15,"axis":null}}},
{"data":{"name":"seg"},"transform":[{"filter":"datum.p=='d'"},{"joinaggregate":[{"op":"max","field":"hi","as":"end"}],"groupby":["dir"]},{"filter":"datum.dir=='higher' && datum.hi < datum.end"}],"mark":{"type":"point","shape":"M-0.35,-1L0.35,0L-0.35,1","filled":false,"color":"white","strokeWidth":1.5,"size":225,"opacity":1},"encoding":{"x":{"field":"hi","type":"quantitative","title":null},"y":{"datum":15,"axis":null}}},
{"data":{"name":"seg"},"transform":[{"filter":"datum.p=='d'"},{"joinaggregate":[{"op":"max","field":"hi","as":"end"}],"groupby":["dir"]},{"filter":"datum.dir=='lower' && datum.hi == datum.end"}],"mark":{"type":"point","shape":"M0.3,-1.15L-0.45,0L0.3,1.15Z","filled":true,"color":"white","strokeWidth":0,"size":225,"opacity":1},"encoding":{"x":{"field":"hi","type":"quantitative","title":null},"y":{"datum":15,"axis":null}}},
{"data":{"name":"seg"},"transform":[{"filter":"datum.p=='d'"},{"joinaggregate":[{"op":"min","field":"lo","as":"start"}],"groupby":["dir"]},{"filter":"datum.dir=='higher' && datum.lo == datum.start"}],"mark":{"type":"point","shape":"M-0.3,-1.15L0.45,0L-0.3,1.15Z","filled":true,"color":"white","strokeWidth":0,"size":225,"opacity":1},"encoding":{"x":{"field":"lo","type":"quantitative","title":null},"y":{"datum":15,"axis":null}}},
{"data":{"name":"meta"},"transform":[{"filter":"datum.p=='d'"}],"mark":{"type":"rule","color":"#cfcfcf","strokeWidth":1},"encoding":{"x":{"field":"base","type":"quantitative","title":null},"y":{"datum":-16,"axis":null},"y2":{"datum":8}}},
{"data":{"name":"meta"},"transform":[{"filter":"datum.p=='d'"}],"mark":{"type":"rule","color":"#cfcfcf","strokeWidth":1},"encoding":{"x":{"field":"fx","type":"quantitative","title":null},"y":{"datum":-13,"axis":null},"y2":{"datum":0}}},
{"data":{"name":"meta"},"transform":[{"filter":"datum.p=='d'"}],"mark":{"type":"point","shape":"M-1,-0.45L1,-0.45L1,0.45L-1,0.45Z","filled":true,"color":"white","strokeWidth":0,"size":256,"opacity":1},"encoding":{"x":{"field":"fx","type":"quantitative","title":null},"y":{"datum":-9,"axis":null}}},
{"data":{"name":"meta"},"transform":[{"filter":"datum.p=='d'"}],"mark":{"type":"text","text":"base value","fontSize":7.5,"color":"#8a8a8a"},"encoding":{"x":{"field":"base","type":"quantitative","title":null},"y":{"datum":-28,"axis":null}}},
{"data":{"name":"meta"},"transform":[{"filter":"datum.p=='d'"}],"mark":{"type":"text","text":"f(x)","fontSize":7.5,"color":"#8a8a8a"},"encoding":{"x":{"field":"fx","type":"quantitative","title":null},"y":{"datum":-28,"axis":null}}},
{"data":{"name":"meta"},"transform":[{"filter":"datum.p=='d'"}],"mark":{"type":"text","fontSize":8.5,"fontWeight":"bold","color":"#111111"},"encoding":{"x":{"field":"fx","type":"quantitative","title":null},"y":{"datum":-18,"axis":null},"text":{"field":"fx","type":"quantitative","format":".2f"}}},
{"data":{"name":"meta"},"transform":[{"filter":"datum.p=='d'"}],"mark":{"type":"text","text":"higher","align":"right","dx":-9,"fontSize":8,"fontWeight":"bold","color":"#FFA500"},"encoding":{"x":{"field":"fx","type":"quantitative","title":null},"y":{"datum":-40,"axis":null}}},
{"data":{"name":"meta"},"transform":[{"filter":"datum.p=='d'"}],"mark":{"type":"text","text":"lower","align":"left","dx":9,"fontSize":8,"fontWeight":"bold","color":"#800080"},"encoding":{"x":{"field":"fx","type":"quantitative","title":null},"y":{"datum":-40,"axis":null}}},
{"data":{"name":"meta"},"transform":[{"filter":"datum.p=='d'"}],"mark":{"type":"point","shape":"M-1,0L1,0M0.3,-0.6L1,0L0.3,0.6","filled":false,"color":"#FFA500","strokeWidth":1,"size":42,"opacity":1},"encoding":{"x":{"field":"fx","type":"quantitative","title":null},"y":{"datum":-41.5,"axis":null}}},
{"data":{"name":"meta"},"transform":[{"filter":"datum.p=='d'"}],"mark":{"type":"point","shape":"M1,0L-1,0M-0.3,-0.6L-1,0L-0.3,0.6","filled":false,"color":"#800080","strokeWidth":1,"size":42,"opacity":1},"encoding":{"x":{"field":"fx","type":"quantitative","title":null},"y":{"datum":-38.5,"axis":null}}},
{"data":{"name":"lab"},"transform":[{"filter":"datum.p=='d' && datum.dir=='higher'"}],"mark":{"type":"text","align":"right","dx":-12,"fontSize":7,"fontWeight":"bold"},"encoding":{"x":{"field":"labHi","type":"quantitative","title":null},"y":{"datum":41,"axis":null},"text":{"field":"label"},"fill":{"field":"dir","type":"nominal","legend":null}}},
{"data":{"name":"lab"},"transform":[{"filter":"datum.p=='d' && datum.dir=='lower'"}],"mark":{"type":"text","align":"left","dx":12,"fontSize":7,"fontWeight":"bold"},"encoding":{"x":{"field":"labLo","type":"quantitative","title":null},"y":{"datum":41,"axis":null},"text":{"field":"label"},"fill":{"field":"dir","type":"nominal","legend":null}}}
]},
{"title":{"text":"(e)\u00a0 The single Sample 90","offset":43},"width":659,"height":50,"layer":[
{"data":{"name":"seg"},"transform":[{"filter":"datum.p=='e'"}],"mark":{"type":"rect","strokeWidth":0},"encoding":{"x":{"field":"lo","type":"quantitative","title":null,"scale":{"domain":[3.114,7.649],"nice":false,"zero":false},"axis":{"orient":"top","values":[3.5,4.0,4.5,5.0,5.5,6.0,6.5,7.0,7.5],"format":".1f","title":null}},"x2":{"field":"hi"},"y":{"datum":8,"axis":null,"scale":{"domain":[0,50],"reverse":true,"nice":false,"zero":false}},"y2":{"datum":22},"fill":{"field":"dir","type":"nominal","legend":null,"scale":{"domain":["higher","lower"],"range":["#FFA500","#800080"]}}}},
{"data":{"name":"lab"},"transform":[{"filter":"datum.p=='e' && datum.dir=='higher'"}],"mark":{"type":"rect","strokeWidth":0,"fill":{"gradient":"linear","x1":0,"y1":0,"x2":0,"y2":1,"stops":[{"offset":0,"color":"#ffbccb"},{"offset":1,"color":"#ffd9e2"}]}},"encoding":{"x":{"field":"barLo","type":"quantitative","title":null},"x2":{"field":"barHi"},"y":{"datum":22,"axis":null},"y2":{"datum":32}}},
{"data":{"name":"lab"},"transform":[{"filter":"datum.p=='e' && datum.dir=='lower'"}],"mark":{"type":"rect","strokeWidth":0,"fill":{"gradient":"linear","x1":0,"y1":0,"x2":0,"y2":1,"stops":[{"offset":0,"color":"#bcd5f1"},{"offset":1,"color":"#d9e7f7"}]}},"encoding":{"x":{"field":"barLo","type":"quantitative","title":null},"x2":{"field":"barHi"},"y":{"datum":22,"axis":null},"y2":{"datum":32}}},
{"data":{"name":"lab"},"transform":[{"filter":"datum.p=='e' && datum.dir=='higher'"}],"mark":{"type":"rect","strokeWidth":0,"fill":{"gradient":"linear","x1":0,"y1":0,"x2":0,"y2":1,"stops":[{"offset":0,"color":"#ffd9e2"},{"offset":0.8,"color":"#ffffff"}]}},"encoding":{"x":{"field":"labLo","type":"quantitative","title":null},"x2":{"field":"labHi"},"y":{"datum":32,"axis":null},"y2":{"datum":49}}},
{"data":{"name":"lab"},"transform":[{"filter":"datum.p=='e' && datum.dir=='lower'"}],"mark":{"type":"rect","strokeWidth":0,"fill":{"gradient":"linear","x1":0,"y1":0,"x2":0,"y2":1,"stops":[{"offset":0,"color":"#d9e7f7"},{"offset":0.8,"color":"#ffffff"}]}},"encoding":{"x":{"field":"labLo","type":"quantitative","title":null},"x2":{"field":"labHi"},"y":{"datum":32,"axis":null},"y2":{"datum":49}}},
{"data":{"name":"lab"},"transform":[{"filter":"datum.p=='e'"}],"mark":{"type":"rule","strokeWidth":1},"encoding":{"x":{"field":"barLo","type":"quantitative","title":null},"x2":{"field":"labLo"},"y":{"datum":22,"axis":null},"y2":{"datum":32},"stroke":{"field":"dir","type":"nominal","legend":null,"scale":{"domain":["higher","lower"],"range":["#f5cf8f","#c3a5d2"]}}}},
{"data":{"name":"lab"},"transform":[{"filter":"datum.p=='e'"}],"mark":{"type":"rule","strokeWidth":1},"encoding":{"x":{"field":"barHi","type":"quantitative","title":null},"x2":{"field":"labHi"},"y":{"datum":22,"axis":null},"y2":{"datum":32},"stroke":{"field":"dir","type":"nominal","legend":null,"scale":{"domain":["higher","lower"],"range":["#f5cf8f","#c3a5d2"]}}}},
{"data":{"name":"lab"},"transform":[{"filter":"datum.p=='e'"}],"mark":{"type":"rule","strokeWidth":1},"encoding":{"x":{"field":"labLo","type":"quantitative","title":null},"y":{"datum":32,"axis":null},"y2":{"datum":49},"stroke":{"field":"dir","type":"nominal","legend":null,"scale":{"domain":["higher","lower"],"range":["#f5cf8f","#c3a5d2"]}}}},
{"data":{"name":"lab"},"transform":[{"filter":"datum.p=='e'"}],"mark":{"type":"rule","strokeWidth":1},"encoding":{"x":{"field":"labHi","type":"quantitative","title":null},"y":{"datum":32,"axis":null},"y2":{"datum":49},"stroke":{"field":"dir","type":"nominal","legend":null,"scale":{"domain":["higher","lower"],"range":["#f5cf8f","#c3a5d2"]}}}},
{"data":{"name":"seg"},"transform":[{"filter":"datum.p=='e'"},{"joinaggregate":[{"op":"min","field":"lo","as":"start"}],"groupby":["dir"]},{"filter":"datum.dir=='lower' && datum.lo > datum.start"}],"mark":{"type":"point","shape":"M0.35,-1L-0.35,0L0.35,1","filled":false,"color":"white","strokeWidth":1.5,"size":225,"opacity":1},"encoding":{"x":{"field":"lo","type":"quantitative","title":null},"y":{"datum":15,"axis":null}}},
{"data":{"name":"seg"},"transform":[{"filter":"datum.p=='e'"},{"joinaggregate":[{"op":"max","field":"hi","as":"end"}],"groupby":["dir"]},{"filter":"datum.dir=='higher' && datum.hi < datum.end"}],"mark":{"type":"point","shape":"M-0.35,-1L0.35,0L-0.35,1","filled":false,"color":"white","strokeWidth":1.5,"size":225,"opacity":1},"encoding":{"x":{"field":"hi","type":"quantitative","title":null},"y":{"datum":15,"axis":null}}},
{"data":{"name":"seg"},"transform":[{"filter":"datum.p=='e'"},{"joinaggregate":[{"op":"max","field":"hi","as":"end"}],"groupby":["dir"]},{"filter":"datum.dir=='lower' && datum.hi == datum.end"}],"mark":{"type":"point","shape":"M0.3,-1.15L-0.45,0L0.3,1.15Z","filled":true,"color":"white","strokeWidth":0,"size":225,"opacity":1},"encoding":{"x":{"field":"hi","type":"quantitative","title":null},"y":{"datum":15,"axis":null}}},
{"data":{"name":"seg"},"transform":[{"filter":"datum.p=='e'"},{"joinaggregate":[{"op":"min","field":"lo","as":"start"}],"groupby":["dir"]},{"filter":"datum.dir=='higher' && datum.lo == datum.start"}],"mark":{"type":"point","shape":"M-0.3,-1.15L0.45,0L-0.3,1.15Z","filled":true,"color":"white","strokeWidth":0,"size":225,"opacity":1},"encoding":{"x":{"field":"lo","type":"quantitative","title":null},"y":{"datum":15,"axis":null}}},
{"data":{"name":"meta"},"transform":[{"filter":"datum.p=='e'"}],"mark":{"type":"rule","color":"#cfcfcf","strokeWidth":1},"encoding":{"x":{"field":"base","type":"quantitative","title":null},"y":{"datum":-16,"axis":null},"y2":{"datum":8}}},
{"data":{"name":"meta"},"transform":[{"filter":"datum.p=='e'"}],"mark":{"type":"rule","color":"#cfcfcf","strokeWidth":1},"encoding":{"x":{"field":"fx","type":"quantitative","title":null},"y":{"datum":-13,"axis":null},"y2":{"datum":0}}},
{"data":{"name":"meta"},"transform":[{"filter":"datum.p=='e'"}],"mark":{"type":"point","shape":"M-1,-0.45L1,-0.45L1,0.45L-1,0.45Z","filled":true,"color":"white","strokeWidth":0,"size":256,"opacity":1},"encoding":{"x":{"field":"fx","type":"quantitative","title":null},"y":{"datum":-9,"axis":null}}},
{"data":{"name":"meta"},"transform":[{"filter":"datum.p=='e'"}],"mark":{"type":"text","text":"base value","fontSize":7.5,"color":"#8a8a8a"},"encoding":{"x":{"field":"base","type":"quantitative","title":null},"y":{"datum":-28,"axis":null}}},
{"data":{"name":"meta"},"transform":[{"filter":"datum.p=='e'"}],"mark":{"type":"text","text":"f(x)","fontSize":7.5,"color":"#8a8a8a"},"encoding":{"x":{"field":"fx","type":"quantitative","title":null},"y":{"datum":-28,"axis":null}}},
{"data":{"name":"meta"},"transform":[{"filter":"datum.p=='e'"}],"mark":{"type":"text","fontSize":8.5,"fontWeight":"bold","color":"#111111"},"encoding":{"x":{"field":"fx","type":"quantitative","title":null},"y":{"datum":-18,"axis":null},"text":{"field":"fx","type":"quantitative","format":".2f"}}},
{"data":{"name":"meta"},"transform":[{"filter":"datum.p=='e'"}],"mark":{"type":"text","text":"higher","align":"right","dx":-9,"fontSize":8,"fontWeight":"bold","color":"#FFA500"},"encoding":{"x":{"field":"fx","type":"quantitative","title":null},"y":{"datum":-40,"axis":null}}},
{"data":{"name":"meta"},"transform":[{"filter":"datum.p=='e'"}],"mark":{"type":"text","text":"lower","align":"left","dx":9,"fontSize":8,"fontWeight":"bold","color":"#800080"},"encoding":{"x":{"field":"fx","type":"quantitative","title":null},"y":{"datum":-40,"axis":null}}},
{"data":{"name":"meta"},"transform":[{"filter":"datum.p=='e'"}],"mark":{"type":"point","shape":"M-1,0L1,0M0.3,-0.6L1,0L0.3,0.6","filled":false,"color":"#FFA500","strokeWidth":1,"size":42,"opacity":1},"encoding":{"x":{"field":"fx","type":"quantitative","title":null},"y":{"datum":-41.5,"axis":null}}},
{"data":{"name":"meta"},"transform":[{"filter":"datum.p=='e'"}],"mark":{"type":"point","shape":"M1,0L-1,0M-0.3,-0.6L-1,0L-0.3,0.6","filled":false,"color":"#800080","strokeWidth":1,"size":42,"opacity":1},"encoding":{"x":{"field":"fx","type":"quantitative","title":null},"y":{"datum":-38.5,"axis":null}}},
{"data":{"name":"lab"},"transform":[{"filter":"datum.p=='e' && datum.dir=='higher'"}],"mark":{"type":"text","align":"right","dx":-12,"fontSize":7,"fontWeight":"bold"},"encoding":{"x":{"field":"labHi","type":"quantitative","title":null},"y":{"datum":41,"axis":null},"text":{"field":"label"},"fill":{"field":"dir","type":"nominal","legend":null}}},
{"data":{"name":"lab"},"transform":[{"filter":"datum.p=='e' && datum.dir=='lower'"}],"mark":{"type":"text","align":"left","dx":12,"fontSize":7,"fontWeight":"bold"},"encoding":{"x":{"field":"labLo","type":"quantitative","title":null},"y":{"datum":41,"axis":null},"text":{"field":"label"},"fill":{"field":"dir","type":"nominal","legend":null}}}
]},
{"title":{"text":"(f)\u00a0 The single Sample 110","offset":14},"width":659,"height":50,"layer":[
{"data":{"name":"seg"},"transform":[{"filter":"datum.p=='f'"}],"mark":{"type":"rect","strokeWidth":0},"encoding":{"x":{"field":"lo","type":"quantitative","title":null,"scale":{"domain":[2.113,3.934],"nice":false,"zero":false},"axis":{"orient":"top","values":[2.2,2.4,2.6,2.8,3.0,3.2,3.4,3.6,3.8],"format":".1f","title":null}},"x2":{"field":"hi"},"y":{"datum":8,"axis":null,"scale":{"domain":[0,50],"reverse":true,"nice":false,"zero":false}},"y2":{"datum":22},"fill":{"field":"dir","type":"nominal","legend":null,"scale":{"domain":["higher","lower"],"range":["#FFA500","#800080"]}}}},
{"data":{"name":"lab"},"transform":[{"filter":"datum.p=='f' && datum.dir=='higher'"}],"mark":{"type":"rect","strokeWidth":0,"fill":{"gradient":"linear","x1":0,"y1":0,"x2":0,"y2":1,"stops":[{"offset":0,"color":"#ffbccb"},{"offset":1,"color":"#ffd9e2"}]}},"encoding":{"x":{"field":"barLo","type":"quantitative","title":null},"x2":{"field":"barHi"},"y":{"datum":22,"axis":null},"y2":{"datum":32}}},
{"data":{"name":"lab"},"transform":[{"filter":"datum.p=='f' && datum.dir=='lower'"}],"mark":{"type":"rect","strokeWidth":0,"fill":{"gradient":"linear","x1":0,"y1":0,"x2":0,"y2":1,"stops":[{"offset":0,"color":"#bcd5f1"},{"offset":1,"color":"#d9e7f7"}]}},"encoding":{"x":{"field":"barLo","type":"quantitative","title":null},"x2":{"field":"barHi"},"y":{"datum":22,"axis":null},"y2":{"datum":32}}},
{"data":{"name":"lab"},"transform":[{"filter":"datum.p=='f' && datum.dir=='higher'"}],"mark":{"type":"rect","strokeWidth":0,"fill":{"gradient":"linear","x1":0,"y1":0,"x2":0,"y2":1,"stops":[{"offset":0,"color":"#ffd9e2"},{"offset":0.8,"color":"#ffffff"}]}},"encoding":{"x":{"field":"labLo","type":"quantitative","title":null},"x2":{"field":"labHi"},"y":{"datum":32,"axis":null},"y2":{"datum":49}}},
{"data":{"name":"lab"},"transform":[{"filter":"datum.p=='f' && datum.dir=='lower'"}],"mark":{"type":"rect","strokeWidth":0,"fill":{"gradient":"linear","x1":0,"y1":0,"x2":0,"y2":1,"stops":[{"offset":0,"color":"#d9e7f7"},{"offset":0.8,"color":"#ffffff"}]}},"encoding":{"x":{"field":"labLo","type":"quantitative","title":null},"x2":{"field":"labHi"},"y":{"datum":32,"axis":null},"y2":{"datum":49}}},
{"data":{"name":"lab"},"transform":[{"filter":"datum.p=='f'"}],"mark":{"type":"rule","strokeWidth":1},"encoding":{"x":{"field":"barLo","type":"quantitative","title":null},"x2":{"field":"labLo"},"y":{"datum":22,"axis":null},"y2":{"datum":32},"stroke":{"field":"dir","type":"nominal","legend":null,"scale":{"domain":["higher","lower"],"range":["#f5cf8f","#c3a5d2"]}}}},
{"data":{"name":"lab"},"transform":[{"filter":"datum.p=='f'"}],"mark":{"type":"rule","strokeWidth":1},"encoding":{"x":{"field":"barHi","type":"quantitative","title":null},"x2":{"field":"labHi"},"y":{"datum":22,"axis":null},"y2":{"datum":32},"stroke":{"field":"dir","type":"nominal","legend":null,"scale":{"domain":["higher","lower"],"range":["#f5cf8f","#c3a5d2"]}}}},
{"data":{"name":"lab"},"transform":[{"filter":"datum.p=='f'"}],"mark":{"type":"rule","strokeWidth":1},"encoding":{"x":{"field":"labLo","type":"quantitative","title":null},"y":{"datum":32,"axis":null},"y2":{"datum":49},"stroke":{"field":"dir","type":"nominal","legend":null,"scale":{"domain":["higher","lower"],"range":["#f5cf8f","#c3a5d2"]}}}},
{"data":{"name":"lab"},"transform":[{"filter":"datum.p=='f'"}],"mark":{"type":"rule","strokeWidth":1},"encoding":{"x":{"field":"labHi","type":"quantitative","title":null},"y":{"datum":32,"axis":null},"y2":{"datum":49},"stroke":{"field":"dir","type":"nominal","legend":null,"scale":{"domain":["higher","lower"],"range":["#f5cf8f","#c3a5d2"]}}}},
{"data":{"name":"seg"},"transform":[{"filter":"datum.p=='f'"},{"joinaggregate":[{"op":"min","field":"lo","as":"start"}],"groupby":["dir"]},{"filter":"datum.dir=='lower' && datum.lo > datum.start"}],"mark":{"type":"point","shape":"M0.35,-1L-0.35,0L0.35,1","filled":false,"color":"white","strokeWidth":1.5,"size":225,"opacity":1},"encoding":{"x":{"field":"lo","type":"quantitative","title":null},"y":{"datum":15,"axis":null}}},
{"data":{"name":"seg"},"transform":[{"filter":"datum.p=='f'"},{"joinaggregate":[{"op":"max","field":"hi","as":"end"}],"groupby":["dir"]},{"filter":"datum.dir=='higher' && datum.hi < datum.end"}],"mark":{"type":"point","shape":"M-0.35,-1L0.35,0L-0.35,1","filled":false,"color":"white","strokeWidth":1.5,"size":225,"opacity":1},"encoding":{"x":{"field":"hi","type":"quantitative","title":null},"y":{"datum":15,"axis":null}}},
{"data":{"name":"seg"},"transform":[{"filter":"datum.p=='f'"},{"joinaggregate":[{"op":"max","field":"hi","as":"end"}],"groupby":["dir"]},{"filter":"datum.dir=='lower' && datum.hi == datum.end"}],"mark":{"type":"point","shape":"M0.3,-1.15L-0.45,0L0.3,1.15Z","filled":true,"color":"white","strokeWidth":0,"size":225,"opacity":1},"encoding":{"x":{"field":"hi","type":"quantitative","title":null},"y":{"datum":15,"axis":null}}},
{"data":{"name":"seg"},"transform":[{"filter":"datum.p=='f'"},{"joinaggregate":[{"op":"min","field":"lo","as":"start"}],"groupby":["dir"]},{"filter":"datum.dir=='higher' && datum.lo == datum.start"}],"mark":{"type":"point","shape":"M-0.3,-1.15L0.45,0L-0.3,1.15Z","filled":true,"color":"white","strokeWidth":0,"size":225,"opacity":1},"encoding":{"x":{"field":"lo","type":"quantitative","title":null},"y":{"datum":15,"axis":null}}},
{"data":{"name":"meta"},"transform":[{"filter":"datum.p=='f'"}],"mark":{"type":"rule","color":"#cfcfcf","strokeWidth":1},"encoding":{"x":{"field":"base","type":"quantitative","title":null},"y":{"datum":-16,"axis":null},"y2":{"datum":8}}},
{"data":{"name":"meta"},"transform":[{"filter":"datum.p=='f'"}],"mark":{"type":"rule","color":"#cfcfcf","strokeWidth":1},"encoding":{"x":{"field":"fx","type":"quantitative","title":null},"y":{"datum":-13,"axis":null},"y2":{"datum":0}}},
{"data":{"name":"meta"},"transform":[{"filter":"datum.p=='f'"}],"mark":{"type":"point","shape":"M-1,-0.45L1,-0.45L1,0.45L-1,0.45Z","filled":true,"color":"white","strokeWidth":0,"size":256,"opacity":1},"encoding":{"x":{"field":"fx","type":"quantitative","title":null},"y":{"datum":-9,"axis":null}}},
{"data":{"name":"meta"},"transform":[{"filter":"datum.p=='f'"}],"mark":{"type":"text","text":"base value","fontSize":7.5,"color":"#8a8a8a"},"encoding":{"x":{"field":"base","type":"quantitative","title":null},"y":{"datum":-28,"axis":null}}},
{"data":{"name":"meta"},"transform":[{"filter":"datum.p=='f'"}],"mark":{"type":"text","text":"f(x)","fontSize":7.5,"color":"#8a8a8a"},"encoding":{"x":{"field":"fx","type":"quantitative","title":null},"y":{"datum":-28,"axis":null}}},
{"data":{"name":"meta"},"transform":[{"filter":"datum.p=='f'"}],"mark":{"type":"text","fontSize":8.5,"fontWeight":"bold","color":"#111111"},"encoding":{"x":{"field":"fx","type":"quantitative","title":null},"y":{"datum":-18,"axis":null},"text":{"field":"fx","type":"quantitative","format":".2f"}}},
{"data":{"name":"meta"},"transform":[{"filter":"datum.p=='f'"}],"mark":{"type":"text","text":"higher","align":"right","dx":-9,"fontSize":8,"fontWeight":"bold","color":"#FFA500"},"encoding":{"x":{"field":"fx","type":"quantitative","title":null},"y":{"datum":-40,"axis":null}}},
{"data":{"name":"meta"},"transform":[{"filter":"datum.p=='f'"}],"mark":{"type":"text","text":"lower","align":"left","dx":9,"fontSize":8,"fontWeight":"bold","color":"#800080"},"encoding":{"x":{"field":"fx","type":"quantitative","title":null},"y":{"datum":-40,"axis":null}}},
{"data":{"name":"meta"},"transform":[{"filter":"datum.p=='f'"}],"mark":{"type":"point","shape":"M-1,0L1,0M0.3,-0.6L1,0L0.3,0.6","filled":false,"color":"#FFA500","strokeWidth":1,"size":42,"opacity":1},"encoding":{"x":{"field":"fx","type":"quantitative","title":null},"y":{"datum":-41.5,"axis":null}}},
{"data":{"name":"meta"},"transform":[{"filter":"datum.p=='f'"}],"mark":{"type":"point","shape":"M1,0L-1,0M-0.3,-0.6L-1,0L-0.3,0.6","filled":false,"color":"#800080","strokeWidth":1,"size":42,"opacity":1},"encoding":{"x":{"field":"fx","type":"quantitative","title":null},"y":{"datum":-38.5,"axis":null}}},
{"data":{"name":"lab"},"transform":[{"filter":"datum.p=='f' && datum.dir=='higher'"}],"mark":{"type":"text","align":"right","dx":-12,"fontSize":7,"fontWeight":"bold"},"encoding":{"x":{"field":"labHi","type":"quantitative","title":null},"y":{"datum":41,"axis":null},"text":{"field":"label"},"fill":{"field":"dir","type":"nominal","legend":null}}},
{"data":{"name":"lab"},"transform":[{"filter":"datum.p=='f' && datum.dir=='lower'"}],"mark":{"type":"text","align":"left","dx":12,"fontSize":7,"fontWeight":"bold"},"encoding":{"x":{"field":"labLo","type":"quantitative","title":null},"y":{"datum":41,"axis":null},"text":{"field":"label"},"fill":{"field":"dir","type":"nominal","legend":null}}}
]}
],
"config":{
"view":{"stroke":null},
"font":"Liberation Serif",
"text":{"font":"Liberation Serif"},
"title":{"font":"Liberation Serif","fontSize":23,"fontWeight":"bold","color":"#000000","anchor":"start","frame":"group","dx":40},
"axisX":{"domainColor":"#8c8c8c","domainWidth":1,"tickColor":"#666666","tickSize":3,"tickWidth":1,"labelFont":"Liberation Serif","labelFontWeight":"bold","labelFontSize":8,"labelColor":"#1a1a1a","labelPadding":2,"labelFlush":false,"labelOverlap":false,"labelBound":false,"grid":false}
}
}
